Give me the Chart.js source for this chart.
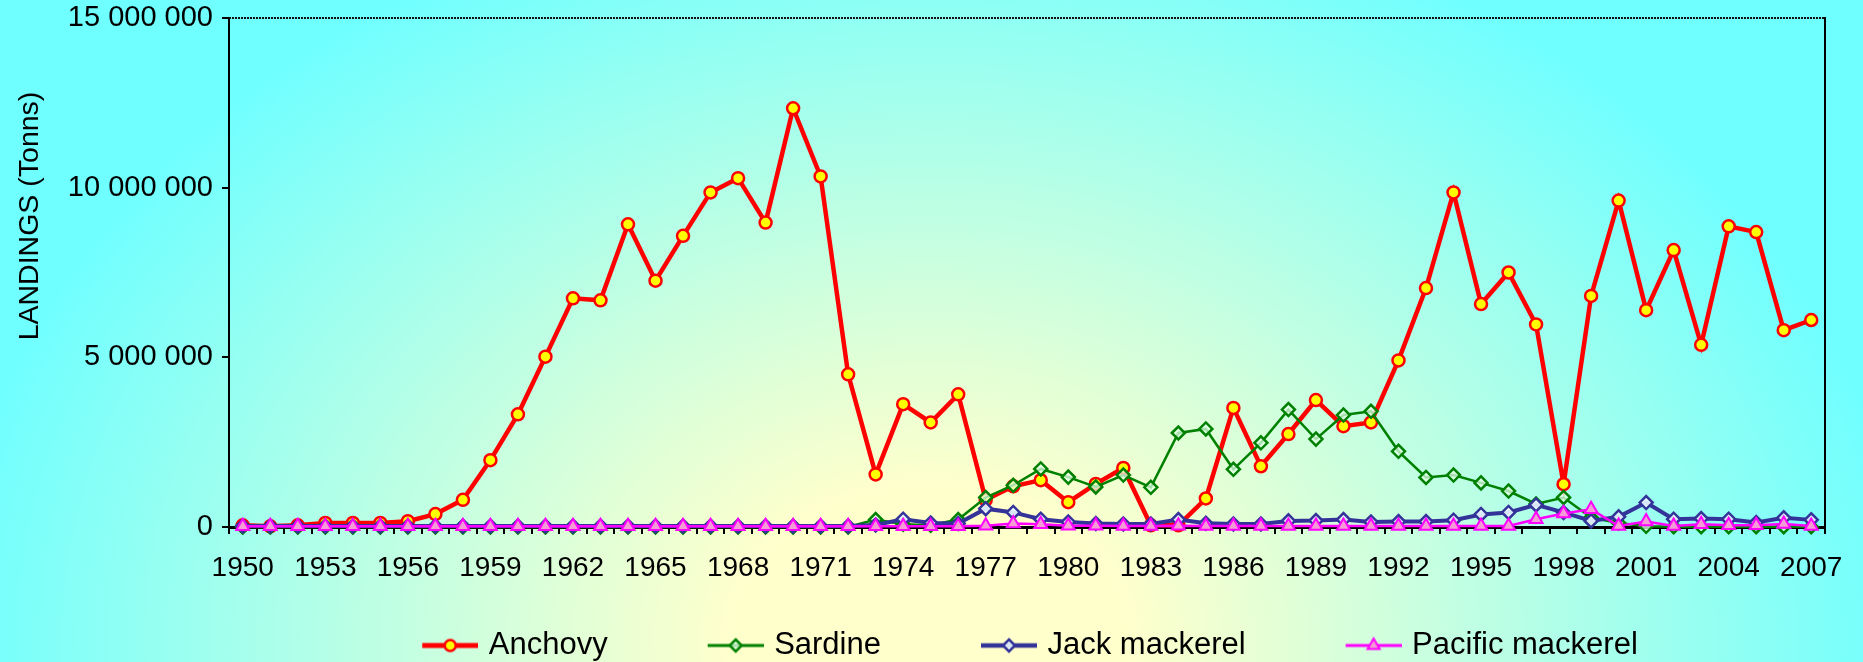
<!DOCTYPE html>
<html>
<head>
<meta charset="utf-8">
<script src="https://cdn.jsdelivr.net/npm/chart.js@4/dist/chart.umd.min.js"></script>
<style>
html,body{margin:0;padding:0;width:1863px;height:662px;overflow:hidden;background:#80FFFF;}
canvas{display:block;}
</style>
</head>
<body>
<canvas id="c" width="1863" height="662"></canvas>
<script>
// ---- DATA ----
const years = ['1950','1951','1952','1953','1954','1955','1956','1957','1958','1959',
  '1960','1961','1962','1963','1964','1965','1966','1967','1968','1969',
  '1970','1971','1972','1973','1974','1975','1976','1977','1978','1979',
  '1980','1981','1982','1983','1984','1985','1986','1987','1988','1989',
  '1990','1991','1992','1993','1994','1995','1996','1997','1998','1999',
  '2000','2001','2002','2003','2004','2005','2006','2007'];

const yTickValues = [0, 5000000, 10000000, 15000000];

const seriesNames = ['Anchovy', 'Sardine', 'Jack mackerel', 'Pacific mackerel'];

const anchovy = [50000, 20000, 50000, 120000, 120000, 120000, 170000, 380000, 800000, 1970000,
  3320000, 5020000, 6740000, 6680000, 8920000, 7260000, 8580000, 9860000, 10280000, 8970000,
  12340000, 10330000, 4500000, 1550000, 3620000, 3080000, 3910000, 800000, 1200000, 1380000,
  730000, 1270000, 1740000, 50000, 50000, 840000, 3510000, 1790000, 2740000, 3740000,
  2970000, 3080000, 4910000, 7040000, 9860000, 6570000, 7500000, 5970000, 1260000, 6810000,
  9620000, 6390000, 8160000, 5370000, 8860000, 8690000, 5800000, 6100000];

const sardine = [0, 0, 0, 0, 0, 0, 0, 0, 0, 0,
  0, 0, 0, 0, 0, 0, 0, 0, 0, 0,
  0, 0, 0, 220000, 80000, 50000, 220000, 870000, 1230000, 1710000,
  1470000, 1180000, 1530000, 1170000, 2770000, 2890000, 1700000, 2480000, 3460000, 2590000,
  3300000, 3410000, 2230000, 1460000, 1530000, 1300000, 1060000, 680000, 870000, 280000,
  120000, 20000, 10000, 10000, 10000, 10000, 10000, 10000];

const jackMackerel = [30000, 30000, 30000, 30000, 30000, 30000, 30000, 30000, 30000, 30000,
  30000, 30000, 30000, 30000, 30000, 30000, 30000, 30000, 30000, 30000,
  30000, 30000, 30000, 60000, 230000, 120000, 100000, 540000, 430000, 230000,
  150000, 100000, 90000, 90000, 220000, 110000, 90000, 90000, 180000, 190000,
  220000, 150000, 160000, 160000, 200000, 370000, 430000, 650000, 430000, 180000,
  300000, 720000, 230000, 250000, 230000, 130000, 270000, 210000];

const pacificMackerel = [20000, 20000, 20000, 20000, 20000, 20000, 20000, 20000, 20000, 20000,
  20000, 20000, 20000, 20000, 20000, 20000, 20000, 20000, 20000, 20000,
  20000, 20000, 20000, 20000, 20000, 20000, 20000, 40000, 100000, 80000,
  40000, 40000, 30000, 30000, 40000, 30000, 30000, 30000, 30000, 30000,
  30000, 30000, 30000, 30000, 30000, 30000, 30000, 230000, 400000, 520000,
  30000, 160000, 30000, 80000, 50000, 50000, 90000, 30000];

// ---- STYLE ----
const FONT = '"Liberation Sans", Arial, Helvetica, sans-serif';
const styles = [
  {line:'#FF0000', lw:4.5, shape:'circle',   r:6,   pbw:2.5, fill:'#FFFF00',                 pbc:'#FF0000'},
  {line:'#008000', lw:2.5, shape:'rectRot',  r:6.5, pbw:2.5, fill:'rgba(225,255,230,0.75)',  pbc:'#008000'},
  {line:'#333399', lw:4,   shape:'rectRot',  r:6.5, pbw:2.5, fill:'rgba(235,250,255,0.9)',   pbc:'#333399'},
  {line:'#FF00FF', lw:2.5, shape:'triangle', r:7.5, pbw:2,   fill:'#F59BD5',                 pbc:'#FF00FF'}
];

function fmtNum(v){ return String(v).replace(/\B(?=(\d{3})+(?!\d))/g, ' '); }

function drawMarker(ctx, shape, x, y, r, fill, stroke, bw){
  ctx.beginPath();
  if (shape === 'circle') {
    ctx.arc(x, y, r, 0, Math.PI*2);
  } else if (shape === 'rectRot') {
    ctx.moveTo(x, y - r); ctx.lineTo(x + r, y); ctx.lineTo(x, y + r); ctx.lineTo(x - r, y);
  } else {
    const a = Math.PI*2/3;
    ctx.moveTo(x, y - r);
    ctx.lineTo(x + Math.sin(a)*r, y - Math.cos(a)*r);
    ctx.lineTo(x + Math.sin(2*a)*r, y - Math.cos(2*a)*r);
  }
  ctx.closePath();
  ctx.fillStyle = fill; ctx.fill();
  ctx.lineWidth = bw; ctx.strokeStyle = stroke; ctx.stroke();
}

const LEG_BOX = 141;
function legendImage(st){
  const W = LEG_BOX + 10, H = 24;
  const cv = document.createElement('canvas');
  cv.width = W; cv.height = H;
  const c = cv.getContext('2d');
  const x0 = W - 56, y = H/2;
  c.beginPath(); c.moveTo(x0, y); c.lineTo(W, y);
  c.lineWidth = st.lw + 0.5; c.strokeStyle = st.line; c.stroke();
  drawMarker(c, st.shape, x0 + 28, y, st.r - 0.5, st.fill, st.pbc, st.pbw);
  return cv;
}
const legendImgs = styles.map(legendImage);

const bgPlugin = {
  id: 'bg',
  beforeDraw(chart){
    const ctx = chart.ctx, W = chart.width, H = chart.height;
    const cx = 930, cy = 640, rx = 980, ry = 760;
    ctx.save();
    ctx.fillStyle = '#70FFFF';
    ctx.fillRect(0, 0, W, H);
    ctx.translate(cx, cy);
    ctx.scale(rx/ry, 1);
    const g = ctx.createRadialGradient(0, 0, 0, 0, 0, ry);
    g.addColorStop(0, '#FFFFCC');
    g.addColorStop(0.2, '#FFFFCC');
    g.addColorStop(1, '#70FFFF');
    ctx.fillStyle = g;
    ctx.fillRect(-cx*ry/rx - 10, -cy - 10, W*ry/rx + 20, H + 20);
    ctx.restore();
  }
};

const framePlugin = {
  id: 'frame',
  afterLayout(chart){
    // centre the legend row like the original (legend box starts at x = 145)
    if (chart.legend) { chart.legend.left = 145; }
  },
  beforeDatasetsDraw(chart){
    const {ctx, chartArea:a} = chart;
    ctx.save();
    ctx.strokeStyle = '#111';
    ctx.lineWidth = 2;
    ctx.setLineDash([2, 1]);
    ctx.beginPath(); ctx.moveTo(a.left, a.top); ctx.lineTo(a.right, a.top); ctx.stroke();
    ctx.setLineDash([]);
    ctx.strokeStyle = '#000';
    ctx.beginPath(); ctx.moveTo(a.right, a.top - 1); ctx.lineTo(a.right, a.bottom); ctx.stroke();
    ctx.restore();
  },
  afterDraw(chart){
    const ctx = chart.ctx;
    ctx.save();
    ctx.translate(30, 216);
    ctx.rotate(-Math.PI/2);
    ctx.font = '28.5px ' + FONT;
    ctx.fillStyle = '#000';
    ctx.textAlign = 'center';
    ctx.textBaseline = 'middle';
    ctx.fillText('LANDINGS (Tonns)', 0, 0);
    ctx.restore();
  }
};

const seriesData = [anchovy, sardine, jackMackerel, pacificMackerel];
const datasets = seriesData.map((d, i) => ({
  label: seriesNames[i],
  data: d,
  borderColor: styles[i].line,
  backgroundColor: styles[i].line,
  borderWidth: styles[i].lw,
  pointStyle: styles[i].shape,
  pointRadius: styles[i].r,
  pointBorderWidth: styles[i].pbw,
  pointBackgroundColor: styles[i].fill,
  pointBorderColor: styles[i].pbc,
  tension: 0,
  fill: false,
  clip: false,
  order: 4 - i
}));

new Chart(document.getElementById('c'), {
  type: 'line',
  data: { labels: years, datasets },
  plugins: [bgPlugin, framePlugin],
  options: {
    responsive: false,
    animation: false,
    devicePixelRatio: 1,
    events: [],
    layout: { padding: { top: 18, right: 38, left: 0, bottom: -9 } },
    plugins: {
      tooltip: { enabled: false },
      title: { display: false },
      legend: {
        position: 'bottom',
        align: 'center',
        labels: {
          usePointStyle: true,
          pointStyleWidth: LEG_BOX,
          padding: 10,
          color: '#000',
          font: { family: FONT, size: 31 },
          generateLabels: (chart) => chart.data.datasets.map((ds, i) => ({
            text: ds.label,
            pointStyle: legendImgs[i],
            fillStyle: 'rgba(0,0,0,0)',
            strokeStyle: 'rgba(0,0,0,0)',
            lineWidth: 0,
            hidden: false,
            datasetIndex: i,
            fontColor: '#000'
          }))
        }
      }
    },
    scales: {
      x: {
        type: 'category',
        offset: true,
        grid: { display: true, offset: true, drawOnChartArea: false, drawTicks: true, tickLength: 7, color: '#000', lineWidth: 2 },
        border: { display: true, color: '#000', width: 3 },
        ticks: {
          autoSkip: false, maxRotation: 0, minRotation: 0, padding: 17,
          color: '#000', font: { family: FONT, size: 28 },
          callback: (v, i) => (i % 3 === 0 ? years[i] : '')
        },
        afterFit: (s) => { s.height = 93; }
      },
      y: {
        min: 0, max: 15000000,
        afterBuildTicks: (s) => { s.ticks = yTickValues.map(v => ({ value: v })); },
        grid: { display: true, drawOnChartArea: false, drawTicks: true, tickLength: 7, color: '#000', lineWidth: 2 },
        border: { display: true, color: '#000', width: 2 },
        ticks: { padding: 9, color: '#000', font: { family: FONT, size: 29 }, callback: (v) => fmtNum(v) },
        afterFit: (s) => { s.width = 229; s.paddingTop = 0; s.paddingBottom = 0; }
      }
    }
  }
});
</script>
</body>
</html>
